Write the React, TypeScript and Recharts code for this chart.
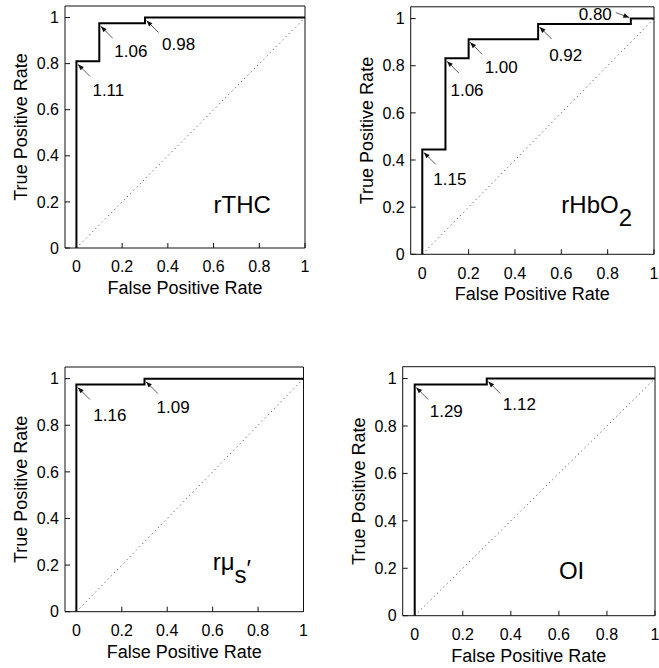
import React from 'react'
import { Line, LineChart, ReferenceDot, XAxis, YAxis } from 'recharts'

const FONT = '"Liberation Sans", Arial, Helvetica, sans-serif'

const TICKS = [0, 0.2, 0.4, 0.6, 0.8, 1]
const X_DOMAIN = [-0.05, 1]
const Y_DOMAIN = [0, 1.05]

// chance diagonal
const CHANCE_FPR = [0, 1]
const CHANCE_TPR = [0, 1]

// ROC corner points (FPR, TPR) and the cut-off ratio marked at each one
const thcFpr = [0, 0, 0.1, 0.3, 1]
const thcTpr = [0, 0.81, 0.975, 1, 1]
const thcCut = ['', '1.11', '1.06', '0.98', '']

const hbo2Fpr = [0, 0, 0.1, 0.2, 0.5, 0.9, 1]
const hbo2Tpr = [0, 0.445, 0.832, 0.912, 0.977, 1, 1]
const hbo2Cut = ['', '1.15', '1.06', '1.00', '0.92', '0.80', '']

const musFpr = [0, 0, 0.3, 1]
const musTpr = [0, 0.975, 1, 1]
const musCut = ['', '1.16', '1.09', '']

const oiFpr = [0, 0, 0.3, 1]
const oiTpr = [0, 0.975, 1, 1]
const oiCut = ['', '1.29', '1.12', '']

const YW = 60 // left axis band
const XH = 50 // bottom axis band

type Box = { left: number; top: number; width: number; height: number }
type Plot = { left: number; right: number; top: number; bottom: number }

type Panel = {
  box: Box
  plot: Plot
  fpr: number[]
  tpr: number[]
  cut: string[]
  textAt: number[][] // text offset from each marked point (negative dx = label on the left)
  titleAt: number[]
  title: (x: number, y: number) => React.ReactNode
}

const titleStyle = { fontFamily: FONT, fontSize: 24, fill: '#000' }

const PANELS: Panel[] = [
  {
    box: { left: 0, top: 0, width: 330, height: 320 },
    plot: { left: 65, right: 305, top: 6, bottom: 248 },
    fpr: thcFpr,
    tpr: thcTpr,
    cut: thcCut,
    textAt: [[16, 35], [15, 34], [17, 32]],
    titleAt: [0.6, 0.152],
    title: (x, y) => (
      <text x={x} y={y} {...titleStyle}>
        rTHC
      </text>
    ),
  },
  {
    box: { left: 330, top: 0, width: 340, height: 320 },
    plot: { left: 410.7, right: 654, top: 6.8, bottom: 254.3 },
    fpr: hbo2Fpr,
    tpr: hbo2Tpr,
    cut: hbo2Cut,
    textAt: [[11, 36], [5, 38], [16, 34], [11, 37], [-19, 1]],
    titleAt: [0.6, 0.174],
    title: (x, y) => (
      <text x={x} y={y} {...titleStyle}>
        rHbO<tspan dy={13}>2</tspan>
      </text>
    ),
  },
  {
    box: { left: 0, top: 340, width: 330, height: 328 },
    plot: { left: 65, right: 303.5, top: 367, bottom: 611.7 },
    fpr: musFpr,
    tpr: musTpr,
    cut: musCut,
    textAt: [[17, 37], [12, 34]],
    titleAt: [0.6, 0.179],
    title: (x, y) => (
      <text x={x} y={y} {...titleStyle}>
        rμ<tspan dy={13}>s</tspan>
        <tspan dy={-6}>′</tspan>
      </text>
    ),
  },
  {
    box: { left: 330, top: 340, width: 340, height: 328 },
    plot: { left: 402.7, right: 655, top: 366.7, bottom: 615.7 },
    fpr: oiFpr,
    tpr: oiTpr,
    cut: oiCut,
    textAt: [[15, 33], [16, 31]],
    titleAt: [0.6, 0.154],
    title: (x, y) => (
      <text x={x} y={y} {...titleStyle}>
        OI
      </text>
    ),
  },
]

function Callout({ cx, cy, text, at }: { cx: number; cy: number; text: string; at: number[] }) {
  const flip = at[0] < 0
  const tip = flip ? [cx - 1.5, cy - 1] : [cx + 1.5, cy + 3]
  const tail = flip ? [cx - 15, cy - 6] : [tip[0] + 12, tip[1] + 12]
  const ang = Math.atan2(tip[1] - tail[1], tip[0] - tail[0])
  const L = 6
  const W = 2.3
  const bx = tip[0] - L * Math.cos(ang)
  const by = tip[1] - L * Math.sin(ang)
  const s = Math.sin(ang)
  const c = Math.cos(ang)
  const head = `${tip[0]},${tip[1]} ${bx - W * s},${by + W * c} ${bx + W * s},${by - W * c}`
  return (
    <g>
      <line x1={tail[0]} y1={tail[1]} x2={tip[0]} y2={tip[1]} stroke="#333" strokeWidth={0.8} />
      <polygon points={head} fill="#111" />
      <text
        x={cx + at[0]}
        y={cy + at[1]}
        textAnchor={flip ? 'end' : 'start'}
        fontFamily={FONT}
        fontSize={17}
        fill="#000"
      >
        {text}
      </text>
    </g>
  )
}

const axisLine = { stroke: '#111', strokeWidth: 1 }
const labelStyle = { fontSize: 18, fill: '#000', fontFamily: FONT }

function AxisTick(props: any) {
  const { x, y, payload, textAnchor, verticalAnchor } = props
  const dy = verticalAnchor === 'start' ? '0.71em' : verticalAnchor === 'middle' ? '0.355em' : 0
  return (
    <text x={x} y={y} dy={dy} textAnchor={textAnchor} fontSize={16} fontFamily={FONT} fill="#000">
      {String(payload.value)}
    </text>
  )
}

function RocPanel({ p }: { p: Panel }) {
  const data = p.fpr.map((x, i) => ({ x, y: p.tpr[i], cut: p.cut[i] }))
  const chance = CHANCE_FPR.map((x, i) => ({ x, y: CHANCE_TPR[i] }))
  const marks = data.filter((d) => d.cut)
  const margin = {
    left: p.plot.left - p.box.left - YW,
    right: p.box.left + p.box.width - p.plot.right - 1,
    top: p.plot.top - p.box.top - 1,
    bottom: p.box.top + p.box.height - p.plot.bottom - XH,
  }
  return (
    <div style={{ position: 'absolute', left: p.box.left, top: p.box.top }}>
      <LineChart width={p.box.width} height={p.box.height} margin={margin}>
        <XAxis
          dataKey="x"
          type="number"
          domain={X_DOMAIN}
          allowDataOverflow
          ticks={TICKS}
          height={XH}
          axisLine={axisLine}
          tickLine={axisLine}
          tickSize={-5}
          tickMargin={18}
          tick={<AxisTick />}
          label={{ value: 'False Positive Rate', position: 'insideBottom', offset: 4, style: labelStyle }}
        />
        <XAxis
          xAxisId="top"
          orientation="top"
          dataKey="x"
          type="number"
          domain={X_DOMAIN}
          allowDataOverflow
          ticks={TICKS}
          height={1}
          axisLine={axisLine}
          tickLine={axisLine}
          tickSize={-5}
          tick={false}
        />
        <YAxis
          type="number"
          domain={Y_DOMAIN}
          allowDataOverflow
          ticks={TICKS}
          width={YW}
          axisLine={axisLine}
          tickLine={axisLine}
          tickSize={-5}
          tickMargin={11}
          tick={<AxisTick />}
          label={{
            value: 'True Positive Rate',
            angle: -90,
            position: 'insideLeft',
            offset: 16,
            style: { ...labelStyle, textAnchor: 'middle' },
          }}
        />
        <YAxis
          yAxisId="right"
          orientation="right"
          type="number"
          domain={Y_DOMAIN}
          allowDataOverflow
          ticks={TICKS}
          width={1}
          axisLine={axisLine}
          tickLine={axisLine}
          tickSize={-5}
          tick={false}
        />
        <Line
          data={chance}
          dataKey="y"
          type="linear"
          stroke="#555"
          strokeWidth={1}
          strokeDasharray="1.2 3.3"
          dot={false}
          isAnimationActive={false}
        />
        <Line
          data={data}
          dataKey="y"
          type="stepAfter"
          stroke="#000"
          strokeWidth={2}
          strokeLinejoin="miter"
          strokeLinecap="butt"
          dot={false}
          isAnimationActive={false}
        />
        {marks.map((m, i) => (
          <ReferenceDot
            key={m.cut + i}
            x={m.x}
            y={m.y}
            r={0}
            ifOverflow="visible"
            shape={(s: any) => <Callout cx={s.cx} cy={s.cy} text={m.cut} at={p.textAt[i]} />}
          />
        ))}
        <ReferenceDot
          x={p.titleAt[0]}
          y={p.titleAt[1]}
          r={0}
          ifOverflow="visible"
          shape={(s: any) => <g>{p.title(s.cx, s.cy)}</g>}
        />
      </LineChart>
    </div>
  )
}

export default function App() {
  return (
    <div
      style={{
        position: 'absolute',
        left: 0,
        top: 0,
        width: 659,
        height: 668,
        overflow: 'hidden',
        background: '#fff',
      }}
    >
      {PANELS.map((p, i) => (
        <RocPanel key={i} p={p} />
      ))}
    </div>
  )
}
